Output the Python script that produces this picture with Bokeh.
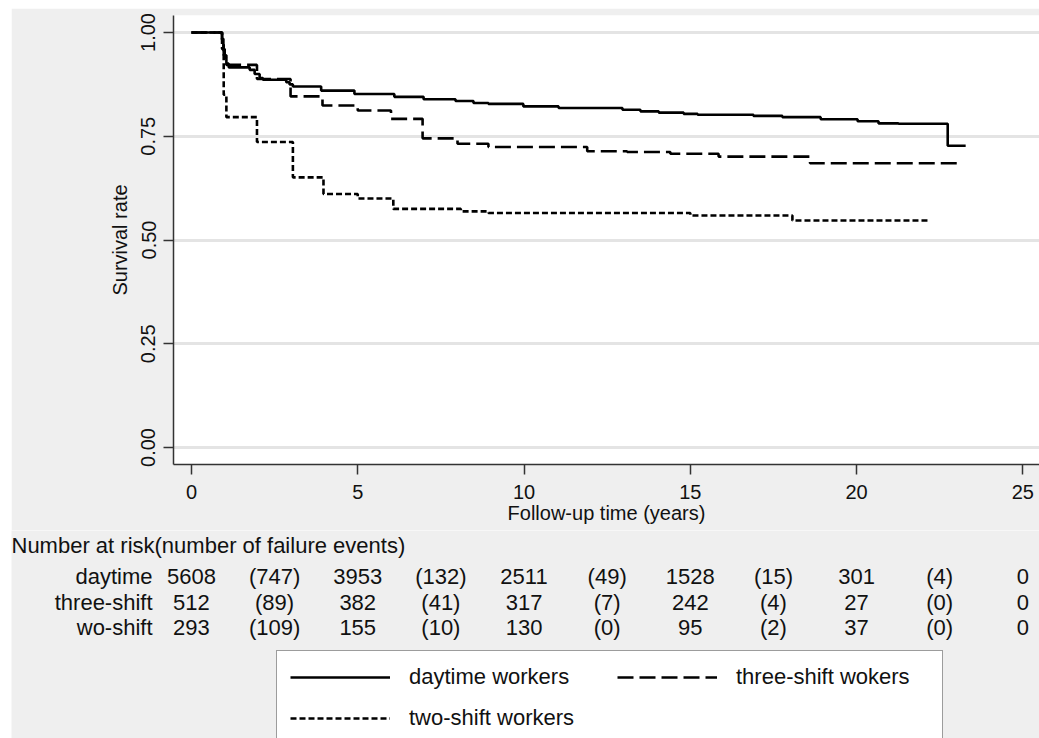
from bokeh.plotting import figure
from bokeh.models import (Range1d, FixedTicker, NumeralTickFormatter, ColumnDataSource,
                          Legend, LegendItem)
from bokeh.core.properties import value
from bokeh.embed import file_html
from bokeh.resources import INLINE

# Kaplan-Meier survival estimates: time (years) of each step and survival after it
day_t = [0, 0.92, 0.96, 1.0, 1.05, 1.12, 1.75, 1.9, 2.05, 2.15, 2.85, 2.95, 3.05, 3.9, 4.9,
         6.1, 6.98, 7.94, 8.48, 8.93, 9.98, 11.04, 12.96, 13.5, 14.05, 14.8, 15.22, 16.9,
         17.77, 18.92, 20.03, 20.66, 21.26, 22.74, 23.28]
day_s = [1.0, 0.985, 0.96, 0.94, 0.925, 0.916, 0.91, 0.90, 0.89, 0.886, 0.88, 0.875, 0.870,
         0.860, 0.852, 0.845, 0.839, 0.835, 0.830, 0.828, 0.822, 0.818, 0.814, 0.810, 0.807,
         0.804, 0.802, 0.799, 0.796, 0.791, 0.786, 0.781, 0.780, 0.727, 0.727]

three_t = [0, 0.92, 0.97, 1.05, 1.97, 2.98, 3.94, 5.0, 6.0, 6.95, 8.0, 8.93, 11.9, 13.1,
           14.4, 15.85, 18.6, 23.07]
three_s = [1.0, 0.98, 0.945, 0.922, 0.888, 0.846, 0.824, 0.812, 0.792, 0.745, 0.732, 0.724,
           0.714, 0.712, 0.708, 0.701, 0.685, 0.685]

two_t = [0, 0.92, 0.97, 1.05, 1.97, 3.05, 3.97, 5.0, 6.07, 8.1, 8.93, 15.0, 18.07, 22.17]
two_s = [1.0, 0.96, 0.85, 0.796, 0.736, 0.651, 0.611, 0.600, 0.575, 0.569, 0.565, 0.559,
         0.547, 0.547]

# Number at risk at each time point and failures within each interval
risk_times = [0, 5, 10, 15, 20, 25]
group_names = ["daytime", "three-shift", "wo-shift"]
daytime_risk = [5608, 3953, 2511, 1528, 301, 0]
daytime_fail = [747, 132, 49, 15, 4]
three_risk = [512, 382, 317, 242, 27, 0]
three_fail = [89, 41, 7, 4, 0]
two_risk = [293, 155, 130, 95, 37, 0]
two_fail = [109, 10, 0, 2, 0]

series_labels = ["daytime workers", "three-shift wokers", "two-shift workers"]
x_ticks = [0, 5, 10, 15, 20, 25]
y_ticks = [0, 0.25, 0.5, 0.75, 1.0]

FONT = "Liberation Sans"
INK = "#111111"
BG = "#efefef"
DASHES = [None, "16 6", "6 3"]
SERIES = [(day_t, day_s), (three_t, three_s), (two_t, two_s)]

W = 1028
LEFT = 162
X0, X1 = -0.54, 25.5

# ---------------- survival plot ----------------
p = figure(width=W, height=522, margin=(8, 0, 0, 11),
           x_range=Range1d(X0, X1), y_range=Range1d(-0.041, 1.041),
           min_border_left=LEFT, min_border_top=7, min_border_right=0, min_border_bottom=66,
           output_backend="svg", toolbar_location=None)
p.background_fill_color = "white"
p.border_fill_color = BG
p.outline_line_color = None

for (ts, ss), dash in zip(SERIES, DASHES):
    kw = dict(line_dash=dash) if dash else {}
    p.step(ts, ss, mode="after", line_color="black", line_width=2.6, **kw)

p.xaxis.ticker = FixedTicker(ticks=x_ticks)
p.yaxis.ticker = FixedTicker(ticks=y_ticks)
p.yaxis.formatter = NumeralTickFormatter(format="0.00")
p.yaxis.major_label_orientation = "vertical"
for ax in (p.xaxis, p.yaxis):
    ax.axis_line_color = "#333333"
    ax.axis_line_width = 1.5
    ax.major_tick_line_color = "#333333"
    ax.major_tick_line_width = 1.5
    ax.major_tick_out = 10
    ax.major_tick_in = 0
    ax.minor_tick_line_color = None
    ax.major_label_text_font = FONT
    ax.major_label_text_font_size = "20px"
    ax.major_label_text_color = INK
    ax.axis_label_text_font = FONT
    ax.axis_label_text_font_size = "20px"
    ax.axis_label_text_font_style = "normal"
    ax.axis_label_text_color = INK
p.xaxis.major_label_standoff = 10
p.yaxis.major_label_standoff = 8
p.xaxis.axis_label = "Follow-up time (years)"
p.yaxis.axis_label = "Survival rate"
p.xaxis.axis_label_standoff = 0
p.yaxis.axis_label_standoff = 8

p.xgrid.grid_line_color = None
p.ygrid.ticker = FixedTicker(ticks=y_ticks)
p.ygrid.grid_line_color = "#e4e4e4"
p.ygrid.grid_line_width = 3

# ---------------- number-at-risk table and legend ----------------
# same years-to-pixels scale as the plot above, but the frame spans the full width
px_per_year = (W - LEFT) / (X1 - X0)
t = figure(width=W, height=208, margin=(0, 0, 0, 11),
           x_range=Range1d(X0 - LEFT / px_per_year, X1), y_range=Range1d(208, 0),
           min_border=0, output_backend="svg", toolbar_location=None)
t.background_fill_color = BG
t.border_fill_color = BG
t.outline_line_color = None
t.axis.visible = False
t.grid.visible = False

text_kw = dict(text_font=value(FONT), text_font_size="22px", text_color=INK,
               text_baseline="middle")

t.text(x=[X0 - LEFT / px_per_year], y=[15], text=["Number at risk(number of failure events)"],
       text_align="left", **text_kw)

row_y = [46, 72, 97]
t.text(x=[-1.17] * 3, y=row_y, text=group_names, text_align="right", **text_kw)

mid_times = [(a + b) / 2 for a, b in zip(risk_times[:-1], risk_times[1:])]
for yy, risk, fail in zip(row_y, [daytime_risk, three_risk, two_risk],
                          [daytime_fail, three_fail, two_fail]):
    src = ColumnDataSource(dict(
        x=list(risk_times) + mid_times,
        y=[yy] * (len(risk_times) + len(mid_times)),
        text=[str(v) for v in risk] + ["(%d)" % v for v in fail]))
    t.text(x="x", y="y", text="text", source=src, text_align="center", **text_kw)

# legend entries use hidden copies of the curves with the same line styles
items = []
for lab, (ts, ss), dash in zip(series_labels, SERIES, DASHES):
    kw = dict(line_dash=dash) if dash else {}
    r = t.step(ts, ss, mode="after", line_color="black", line_width=2.6, visible=False, **kw)
    items.append(LegendItem(label=lab, renderers=[r]))

legend = Legend(items=items, location=(265, -7), orientation="horizontal", ncols=2,
                glyph_width=100, glyph_height=24, label_height=24, label_width=193,
                label_standoff=19, spacing=15, padding=13, margin=0,
                label_text_font=FONT, label_text_font_size="22px", label_text_color=INK,
                border_line_color="#3a3a3a", border_line_width=1.5,
                background_fill_color="white", background_fill_alpha=1.0,
                inactive_fill_alpha=0.0)
t.add_layout(legend, "center")

open("out.html", "w").write(file_html([p, t], INLINE))
